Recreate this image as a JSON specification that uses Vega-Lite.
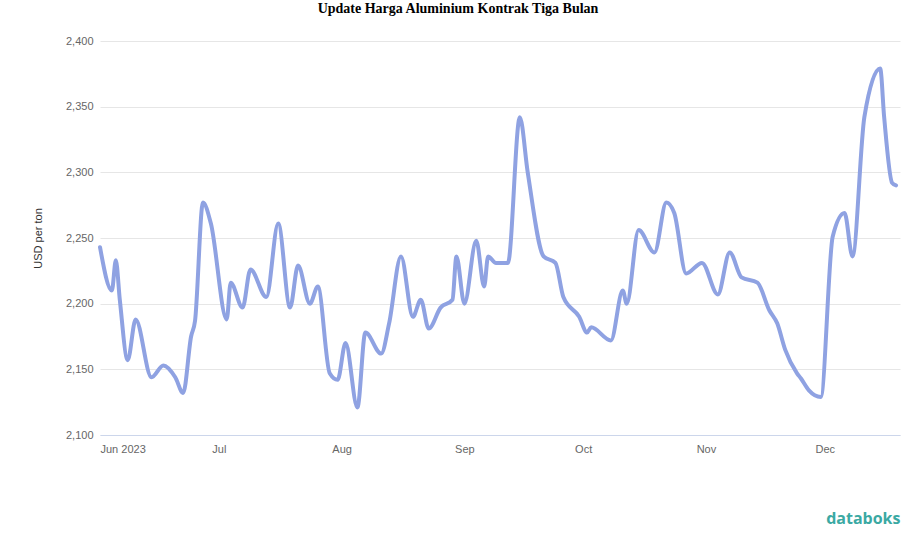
{
  "$schema": "https://vega.github.io/schema/vega-lite/v6.json",
  "width": 800,
  "height": 394,
  "autosize": {"type": "none"},
  "padding": {"left": 100, "top": 41, "right": 17, "bottom": 112},
  "background": "white",
  "title": {
    "text": "Update Harga Aluminium Kontrak Tiga Bulan",
    "font": "Liberation Serif",
    "fontSize": 14,
    "fontWeight": "bold",
    "color": "#000000",
    "anchor": "middle",
    "dx": -42,
    "offset": 19
  },
  "data": {
    "values": [
      {"date": "2023-06-01", "price": 2243},
      {"date": "2023-06-04", "price": 2210},
      {"date": "2023-06-05", "price": 2233},
      {"date": "2023-06-06", "price": 2203},
      {"date": "2023-06-08", "price": 2157},
      {"date": "2023-06-10", "price": 2188},
      {"date": "2023-06-14", "price": 2144},
      {"date": "2023-06-17", "price": 2153},
      {"date": "2023-06-20", "price": 2144},
      {"date": "2023-06-22", "price": 2132},
      {"date": "2023-06-24", "price": 2175},
      {"date": "2023-06-25", "price": 2187},
      {"date": "2023-06-27", "price": 2277},
      {"date": "2023-06-29", "price": 2261},
      {"date": "2023-07-03", "price": 2188},
      {"date": "2023-07-04", "price": 2216},
      {"date": "2023-07-07", "price": 2197},
      {"date": "2023-07-09", "price": 2226},
      {"date": "2023-07-13", "price": 2205},
      {"date": "2023-07-16", "price": 2261},
      {"date": "2023-07-19", "price": 2197},
      {"date": "2023-07-21", "price": 2229},
      {"date": "2023-07-24", "price": 2200},
      {"date": "2023-07-26", "price": 2213},
      {"date": "2023-07-29", "price": 2147},
      {"date": "2023-07-31", "price": 2142},
      {"date": "2023-08-02", "price": 2170},
      {"date": "2023-08-05", "price": 2121},
      {"date": "2023-08-07", "price": 2178},
      {"date": "2023-08-11", "price": 2162},
      {"date": "2023-08-13", "price": 2185},
      {"date": "2023-08-16", "price": 2236},
      {"date": "2023-08-19", "price": 2190},
      {"date": "2023-08-21", "price": 2203},
      {"date": "2023-08-23", "price": 2181},
      {"date": "2023-08-26", "price": 2197},
      {"date": "2023-08-29", "price": 2203},
      {"date": "2023-08-30", "price": 2236},
      {"date": "2023-09-01", "price": 2200},
      {"date": "2023-09-04", "price": 2248},
      {"date": "2023-09-06", "price": 2213},
      {"date": "2023-09-07", "price": 2236},
      {"date": "2023-09-09", "price": 2231},
      {"date": "2023-09-12", "price": 2231},
      {"date": "2023-09-15", "price": 2342},
      {"date": "2023-09-17", "price": 2300},
      {"date": "2023-09-21", "price": 2236},
      {"date": "2023-09-24", "price": 2231},
      {"date": "2023-09-26", "price": 2205},
      {"date": "2023-09-30", "price": 2190},
      {"date": "2023-10-02", "price": 2178},
      {"date": "2023-10-03", "price": 2182},
      {"date": "2023-10-08", "price": 2172},
      {"date": "2023-10-11", "price": 2210},
      {"date": "2023-10-12", "price": 2200},
      {"date": "2023-10-15", "price": 2256},
      {"date": "2023-10-19", "price": 2239},
      {"date": "2023-10-22", "price": 2277},
      {"date": "2023-10-24", "price": 2269},
      {"date": "2023-10-27", "price": 2223},
      {"date": "2023-10-31", "price": 2231},
      {"date": "2023-11-04", "price": 2207},
      {"date": "2023-11-07", "price": 2239},
      {"date": "2023-11-10", "price": 2220},
      {"date": "2023-11-14", "price": 2216},
      {"date": "2023-11-17", "price": 2195},
      {"date": "2023-11-19", "price": 2185},
      {"date": "2023-11-21", "price": 2165},
      {"date": "2023-11-24", "price": 2147},
      {"date": "2023-11-25", "price": 2143},
      {"date": "2023-11-27", "price": 2134},
      {"date": "2023-11-30", "price": 2129},
      {"date": "2023-12-03", "price": 2251},
      {"date": "2023-12-06", "price": 2269},
      {"date": "2023-12-08", "price": 2236},
      {"date": "2023-12-11", "price": 2342},
      {"date": "2023-12-15", "price": 2379},
      {"date": "2023-12-16", "price": 2342},
      {"date": "2023-12-18", "price": 2292},
      {"date": "2023-12-19", "price": 2290}
    ]
  },
  "mark": {
    "type": "line",
    "color": "#8fa2e2",
    "strokeWidth": 4,
    "interpolate": "monotone",
    "strokeJoin": "round",
    "strokeCap": "round"
  },
  "encoding": {
    "x": {
      "field": "date",
      "type": "temporal",
      "scale": {"domain": [{"year": 2023, "month": 6, "date": 1}, {"year": 2023, "month": 12, "date": 20}]},
      "axis": {
        "title": "databoks",
        "titleAnchor": "end",
        "titleColor": "#3ba9a3",
        "titleFont": "Open Sans",
        "titleFontSize": 16,
        "titleFontWeight": "bold",
        "titleBaseline": "alphabetic",
        "titleY": 88,
        "tickCount": {"interval": "month", "step": 1},
        "labelExpr": "datum.index == 0 ? timeFormat(datum.value, '%b %Y') : timeFormat(datum.value, '%b')",
        "labelFlush": true,
        "labelFont": "Liberation Sans",
        "labelFontSize": 11,
        "labelColor": "#666666",
        "labelPadding": 8,
        "ticks": false,
        "grid": false,
        "domainColor": "#ccd6eb",
        "domainWidth": 1
      }
    },
    "y": {
      "field": "price",
      "type": "quantitative",
      "scale": {"domain": [2100, 2400], "nice": false, "zero": false},
      "axis": {
        "title": "USD per ton",
        "titleFont": "Liberation Sans",
        "titleFontSize": 11,
        "titleFontWeight": "normal",
        "titleColor": "#333333",
        "titlePadding": 22,
        "values": [2100, 2150, 2200, 2250, 2300, 2350, 2400],
        "format": ",.0f",
        "labelFont": "Liberation Sans",
        "labelFontSize": 11,
        "labelColor": "#666666",
        "labelPadding": 7,
        "ticks": false,
        "domain": false,
        "gridColor": "#e6e6e6",
        "gridWidth": 1
      }
    }
  },
  "config": {
    "view": {"stroke": null}
  }
}
